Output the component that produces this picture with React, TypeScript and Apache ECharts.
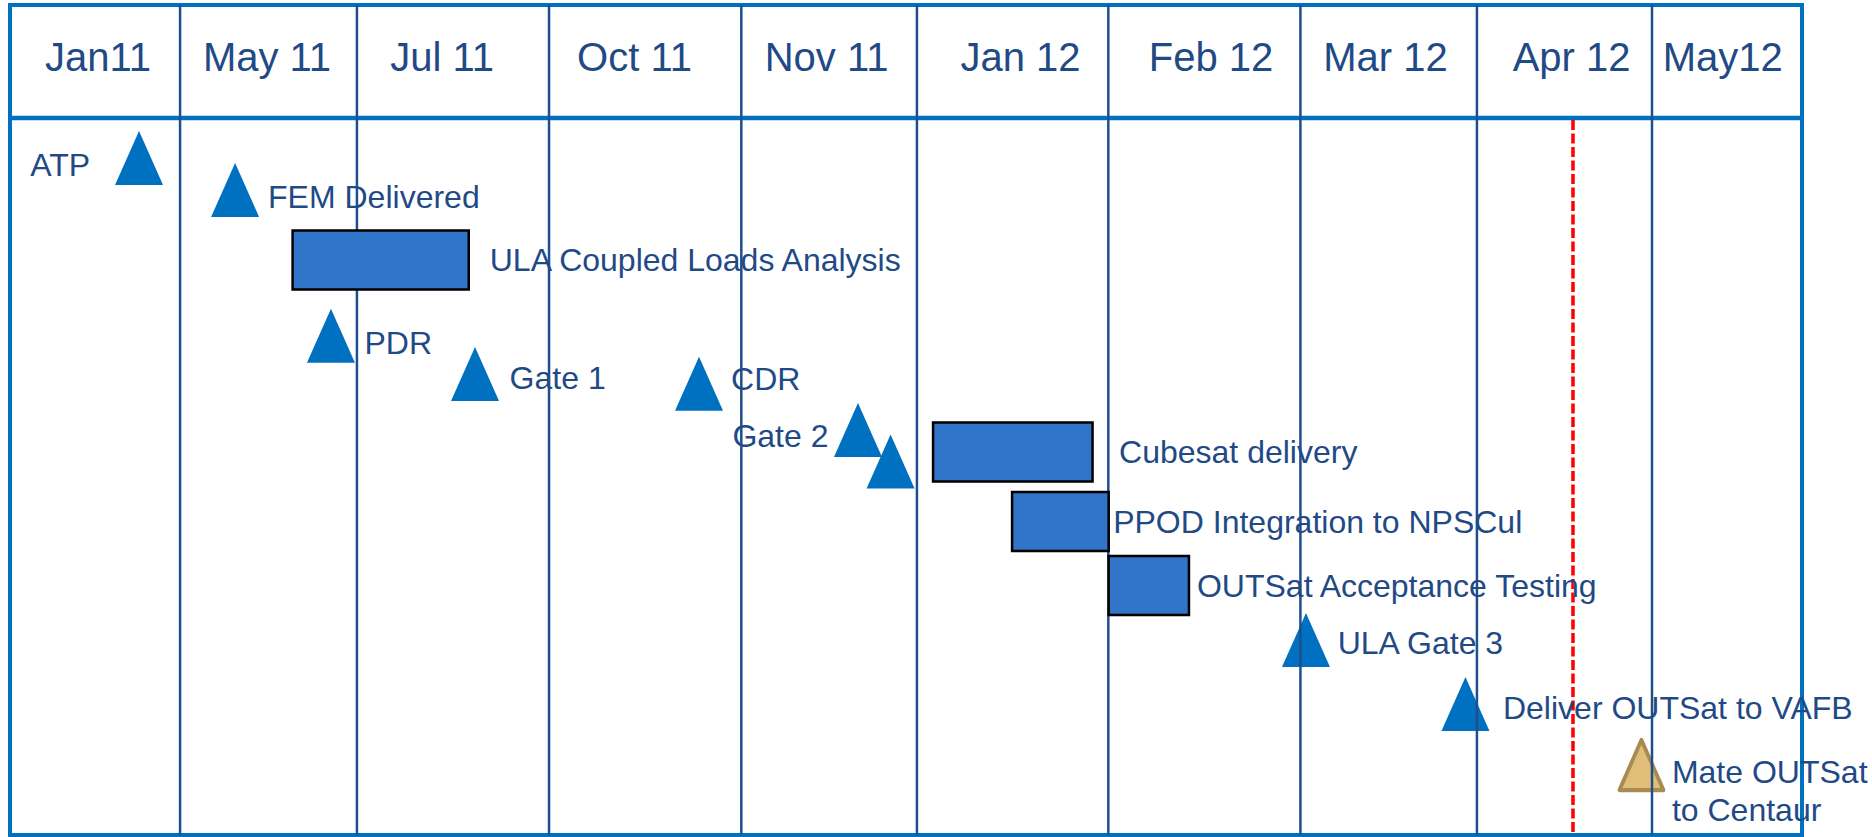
import React, { useEffect, useRef } from "react";
import * as echarts from "echarts";

// ---------- data (timeline scale 0-100 across, rows 0-100 down) ----------
const columnLabels = ["Jan11", "May 11", "Jul 11", "Oct 11", "Nov 11", "Jan 12", "Feb 12", "Mar 12", "Apr 12", "May12"];
const columnLabelAt = [4.91, 14.34, 24.11, 34.85, 45.57, 56.39, 67.02, 76.76, 87.14, 95.58];
const columnDividers = [9.49, 19.36, 30.08, 40.81, 50.61, 61.29, 72.01, 81.86, 91.63];
const headerRow = 6.23;
const headerEnd = 13.61;
const statusDate = 87.22;

const milestoneNames = ["ATP", "FEM Delivered", "PDR", "Gate 1", "CDR", "Gate 2", "", "ULA Gate 3", "Deliver OUTSat to VAFB", "Mate OUTSat\nto Centaur"];
const milestoneAt = [7.2, 12.56, 17.91, 25.95, 38.45, 47.32, 49.14, 72.32, 81.22, 91.04];
const milestoneRow = [18.43, 22.29, 39.84, 44.46, 45.63, 51.2, 55.0, 76.51, 84.22, 91.57];
const milestonePending = [false, false, false, false, false, false, false, false, false, true];

const taskNames = ["ULA Coupled Loads Analysis", "Cubesat delivery", "PPOD Integration to NPSCul", "OUTSat Acceptance Testing"];
const taskStart = [15.77, 51.51, 55.92, 61.31];
const taskEnd = [25.6, 60.41, 61.31, 65.79];
const taskRow = [30.72, 53.86, 62.23, 69.94];

// ---------- styles ----------
const FONT = '"Liberation Sans", Arial, sans-serif';
const TEXT = "#1F4A86";
const FRAME = "#0070C0";
const DIVIDER = "#1F4E8C";
const BAR_THICKNESS = 7.1; // in row units
const milestoneLabelStyle: Record<string, { position: string; distance: number; dy: number }> = {
  "ATP": { position: "left", distance: 25, dy: 6.6 },
  "FEM Delivered": { position: "right", distance: 9, dy: 7 },
  "PDR": { position: "right", distance: 9.5, dy: 7 },
  "Gate 1": { position: "right", distance: 10.6, dy: 4 },
  "CDR": { position: "right", distance: 8, dy: -5 },
  "Gate 2": { position: "left", distance: 5.5, dy: 6.5 },
  "ULA Gate 3": { position: "right", distance: 7.7, dy: 3 },
  "Deliver OUTSat to VAFB": { position: "right", distance: 13.5, dy: 3.5 },
  "Mate OUTSat\nto Centaur": { position: "right", distance: 6.6, dy: 26 },
};
const taskLabelGap = [21, 26.5, 4.5, 8];

export default function App() {
  const ref = useRef<HTMLDivElement>(null);
  useEffect(() => {
    if (!ref.current) return;
    const chart = echarts.init(ref.current, undefined, { renderer: "svg" });
    const option: any = {
      animation: false,
      backgroundColor: "#ffffff",
      grid: {
        left: 10, top: 5, width: 1792, height: 830,
        show: true, borderColor: FRAME, borderWidth: 4, backgroundColor: "#ffffff",
      },
      xAxis: { type: "value", min: 0, max: 100, show: false },
      yAxis: { type: "value", min: 0, max: 100, inverse: true, show: false },
      series: [
        {
          // header bottom rule
          type: "custom", z: 2, silent: true,
          data: [[headerEnd]],
          renderItem: (p: any, api: any) => {
            const a = api.coord([0, api.value(0)]);
            const b = api.coord([100, api.value(0)]);
            return { type: "line", shape: { x1: a[0], y1: a[1], x2: b[0], y2: b[1] }, style: { stroke: FRAME, lineWidth: 4.5 } };
          },
        },
        {
          // status-date line
          type: "custom", z: 2, silent: true,
          data: [[statusDate]],
          renderItem: (p: any, api: any) => {
            const a = api.coord([api.value(0), headerEnd]);
            const b = api.coord([api.value(0), 100]);
            return { type: "line", shape: { x1: a[0], y1: a[1] + 2, x2: b[0], y2: b[1] }, style: { stroke: "#FF0000", lineWidth: 3.5, lineDash: [10, 3.5] } };
          },
        },
        {
          type: "scatter", z: 3, silent: true, symbol: "triangle",
          itemStyle: { opacity: 1 },
          data: milestoneAt.map((x, i) => {
            const name = milestoneNames[i];
            const ls = milestoneLabelStyle[name];
            const pending = milestonePending[i];
            return {
              value: [x, milestoneRow[i]],
              name,
              symbolSize: pending ? [44, 50] : [48, 54],
              itemStyle: pending
                ? { color: "#E0BE7A", borderColor: "#A88B52", borderWidth: 4, borderJoin: "round", opacity: 1 }
                : { color: "#0070C0", opacity: 1 },
              label: ls
                ? {
                    show: true, formatter: "{b}", position: ls.position, distance: ls.distance,
                    offset: [0, ls.dy], color: TEXT, fontSize: 32, fontFamily: FONT, lineHeight: 38.5,
                    align: ls.position === "left" ? "right" : "left", opacity: 1,
                  }
                : { show: false },
            };
          }),
        },
        {
          // column dividers
          type: "custom", z: 4, silent: true,
          data: columnDividers.map((x) => [x]),
          renderItem: (p: any, api: any) => {
            const a = api.coord([api.value(0), 0]);
            const b = api.coord([api.value(0), 100]);
            return { type: "line", shape: { x1: a[0], y1: a[1], x2: b[0], y2: b[1] }, style: { stroke: DIVIDER, lineWidth: 2.5 } };
          },
        },
        {
          // header labels
          type: "custom", z: 5, silent: true,
          data: columnLabelAt.map((x) => [x, headerRow]),
          renderItem: (p: any, api: any) => {
            const c = api.coord([api.value(0), api.value(1)]);
            return {
              type: "text", x: c[0], y: c[1],
              style: { text: columnLabels[p.dataIndex], fill: TEXT, font: `40px ${FONT}`, align: "center", verticalAlign: "middle" },
            };
          },
        },
        {
          // task bars
          type: "custom", z: 6, silent: true,
          data: taskStart.map((s, i) => [s, taskEnd[i], taskRow[i]]),
          renderItem: (p: any, api: any) => {
            const s = api.coord([api.value(0), api.value(2)]);
            const e = api.coord([api.value(1), api.value(2)]);
            const h = api.size([0, BAR_THICKNESS])[1];
            return {
              type: "group",
              children: [
                { type: "rect", shape: { x: s[0], y: s[1] - h / 2, width: e[0] - s[0], height: h }, style: { fill: "#3175C9", stroke: "#000000", lineWidth: 2.5 } },
                {
                  type: "text", x: e[0] + taskLabelGap[p.dataIndex], y: s[1],
                  style: { text: taskNames[p.dataIndex], fill: TEXT, font: `32px ${FONT}`, align: "left", verticalAlign: "middle" },
                },
              ],
            };
          },
        },
      ],
    };
    chart.setOption(option);
    return () => chart.dispose();
  }, []);
  return <div ref={ref} style={{ position: "absolute", left: 0, top: 0, width: 1872, height: 837 }} />;
}
